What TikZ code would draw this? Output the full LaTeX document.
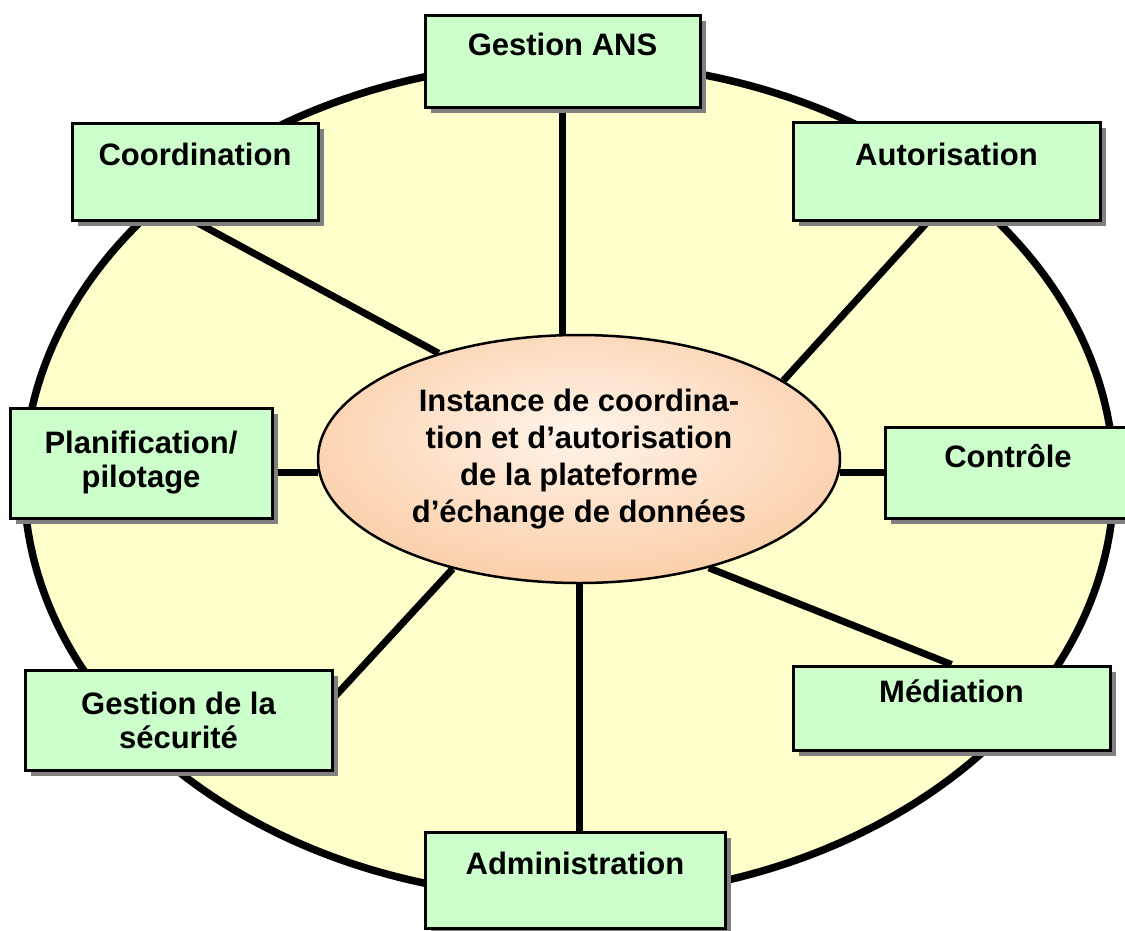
\documentclass[tikz,border=0pt]{standalone}
\usepackage{fontspec}
\setmainfont{Liberation Sans}
\usetikzlibrary{shapes.geometric,shadows,calc}
\definecolor{ringfill}{HTML}{FFFFCC}
\definecolor{boxfill}{HTML}{CCFFCC}
\definecolor{peach}{RGB}{249,186,134}
\definecolor{pale}{RGB}{255,244,234}
\definecolor{shadowgray}{HTML}{808080}
\pgfdeclareradialshading{peachshade}{\pgfpoint{0bp}{6bp}}{color(0bp)=(pale); color(45bp)=(peach); color(75bp)=(peach)}
\pgfdeclarelayer{back}
\pgfdeclarelayer{links}
\pgfsetlayers{back,links,main}
\begin{document}
\begin{tikzpicture}[x=1pt,y=-1pt,
  every node/.style={font=\fontsize{31}{34}\selectfont\bfseries},
  box/.style={draw=black, line width=3pt, fill=boxfill, rectangle, inner sep=0pt, align=center,
    drop shadow={shadow xshift=6pt, shadow yshift=-6pt, fill=shadowgray, opacity=1, draw=none}},
  link/.style={line width=7pt, draw=black}]
\useasboundingbox (0,0) rectangle (1125,930);

\begin{pgfonlayer}{back}
\node[ellipse, draw=black, line width=7.5pt, fill=ringfill, minimum width=1090pt, minimum height=836pt, inner sep=0pt] (ring) at (569,480) {};
\end{pgfonlayer}

\node[ellipse, draw=black, line width=2.5pt, shade, shading=peachshade, minimum width=522pt, minimum height=248pt, inner sep=0pt, align=center, font=\fontsize{31}{37}\selectfont\bfseries] (c) at (579,459) {Instance de coordina-\\tion et d’autorisation\\de la plateforme\\d’échange de données};

\node[box, minimum width=275pt, minimum height=92pt] (ans) at (562.5,61) {Gestion ANS\\\mbox{}};
\node[box, minimum width=246pt, minimum height=97pt] (coord) at (195,171.5) {Coordination\\\mbox{}};
\node[box, minimum width=307pt, minimum height=98pt] (auto) at (946.5,171) {Autorisation\\\mbox{}};
\node[box, minimum width=262pt, minimum height=110pt] (plan) at (141,463) {Planification/\\pilotage};
\node[box, minimum width=246pt, minimum height=91pt] (ctrl) at (1008,472.5) {Contrôle\\\mbox{}};
\node[box, minimum width=307pt, minimum height=100pt] (secu) at (178.5,720) {Gestion de la\\sécurité};
\node[box, minimum width=317pt, minimum height=84pt] (medi) at (951.5,708) {Médiation\\\mbox{}};
\node[box, minimum width=300pt, minimum height=96pt] (admin) at (575,880) {Administration\\\mbox{}};

\begin{pgfonlayer}{links}
\draw[link] (ans.south) -- (ans.south |- c.north);
\draw[link] (coord.south) -- (c.143);
\draw[link] ($(auto.south west)!0.44!(auto.south east)$) -- (c.21.6);
\draw[link] (c.183) -- (c.183 -| plan.east);
\draw[link] (c.-3) -- (c.-3 -| ctrl.west);
\draw[link] (c.221.9) -- ($(secu.east)+(0,-22)$);
\draw[link] (c.-40.7) -- (medi.north);
\draw[link] (c.south) -- (c.south |- admin.north);
\end{pgfonlayer}
\end{tikzpicture}
\end{document}
